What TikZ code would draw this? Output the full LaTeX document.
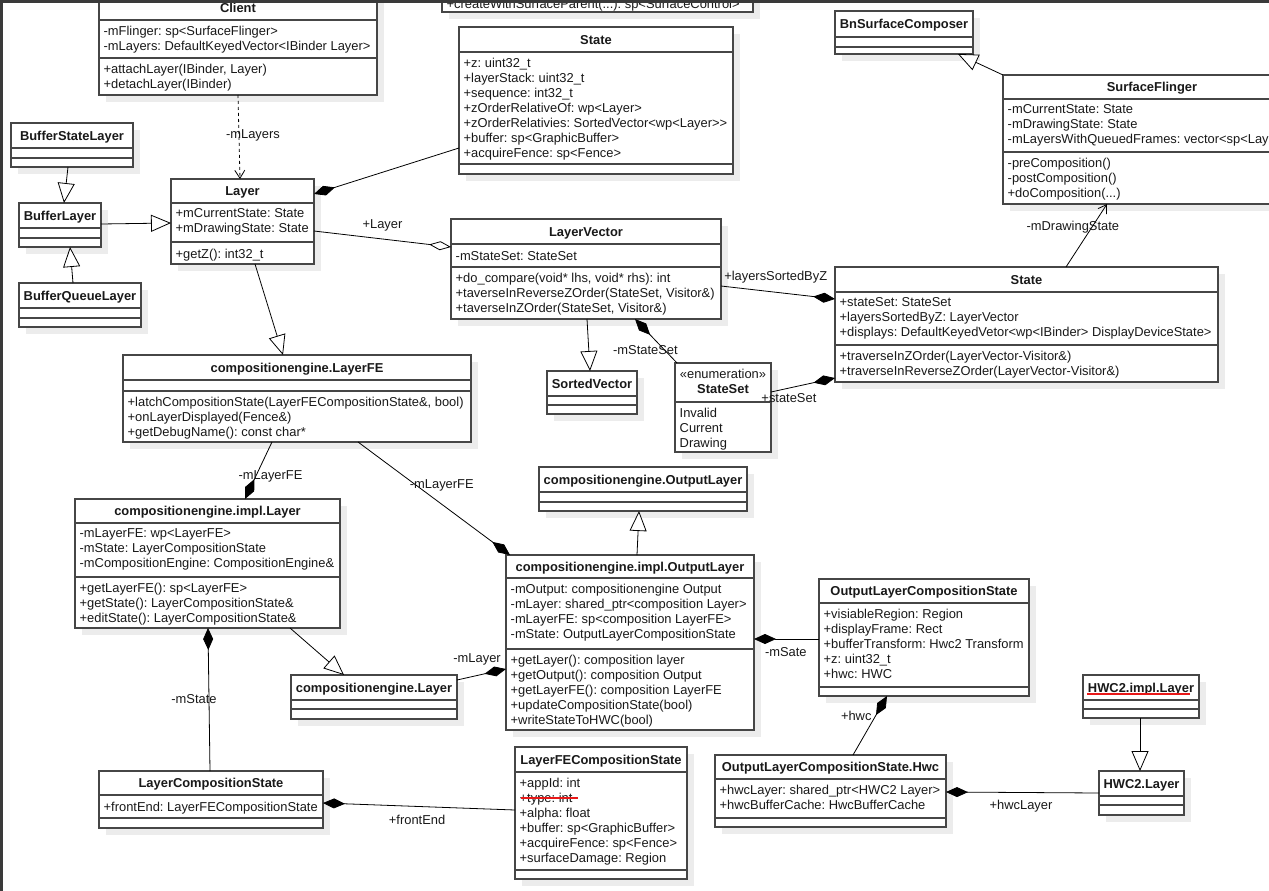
\documentclass[tikz,border=0pt]{standalone}
\usepackage{fontspec}
\newfontfamily\umlfont{Liberation Sans}
\usetikzlibrary{arrows.meta, shadows}

\definecolor{boxgray}{RGB}{70,70,70}
\definecolor{inkgray}{RGB}{25,25,25}
\definecolor{shadowgray}{RGB}{236,236,236}
\definecolor{framegray}{RGB}{58,58,58}
\definecolor{spellred}{RGB}{232,24,24}

% class box: name, top-left corner, width, title/attribute/operation heights, title, attributes, operations
\newcommand{\umlclass}[9]{%
  \node[classbox, minimum width=#3, minimum height={#4+#5+#6}] (#1) at (#2) {};
  \draw[boxline] ([yshift=-#4]#1.north west) -- ([yshift=-#4]#1.north east);
  \draw[boxline] ([yshift={-#4-#5}]#1.north west) -- ([yshift={-#4-#5}]#1.north east);
  \node[titletext] (#1-title) at ([yshift={-#4/2}]#1.north) {#7};
  \node[membertext] (#1-attrs) at ([yshift=-#4]#1.north west) {#8};
  \node[membertext] (#1-ops) at ([yshift={-#4-#5}]#1.north west) {#9};
}

\begin{document}
\frenchspacing
\begin{tikzpicture}[x=1pt, y=-1pt,
    classbox/.style={draw=boxgray, line width=1.2pt, fill=white, anchor=north west,
      outer sep=0pt, inner sep=0pt,
      drop shadow={shadow xshift=7pt, shadow yshift=-7pt, fill=shadowgray, opacity=1}},
    boxline/.style={draw=boxgray, line width=1.2pt},
    titletext/.style={font=\umlfont\bfseries\fontsize{12.9}{15}\selectfont, text=inkgray,
      inner sep=0pt, text height=9.2pt, text depth=0pt, anchor=center},
    stereotext/.style={font=\umlfont\fontsize{12.9}{15}\selectfont, text=inkgray,
      inner sep=0pt, text height=9.2pt, text depth=0pt, anchor=center},
    membertext/.style={font=\umlfont\fontsize{12.9}{15}\selectfont, text=inkgray,
      anchor=north west, align=left, inner xsep=4.5pt, inner ysep=4pt, yshift=-1.5pt,
      execute at begin node=\strut, execute at end node=\strut},
    lbl/.style={font=\umlfont\fontsize{12.9}{15}\selectfont, text=inkgray, inner sep=0pt},
    gen/.style={draw, line width=0.8pt, arrows={-Triangle[length=20pt, width=17pt, fill=white]}},
    comp/.style={draw, line width=0.8pt, arrows={Diamond[length=22pt, width=10pt]-}},
    aggr/.style={draw, line width=0.8pt, arrows={Diamond[length=22pt, width=9pt, fill=white]-}},
    nav/.style={draw, line width=0.8pt, arrows={-Straight Barb[length=8pt, width=10pt]}},
    spell/.style={draw=spellred, line width=1.6pt}]

    \useasboundingbox (0,0) rectangle (1269,891);
    \clip (0,0) rectangle (1269,891);
    \fill[white] (0,0) rectangle (1269,891);

    % classes
    \umlclass{client}{99,-5}{278}{25}{38}{37}{Client}
      {-mFlinger: sp<SurfaceFlinger>\\-mLayers: DefaultKeyedVector<IBinder Layer>}
      {+attachLayer(IBinder, Layer)\\+detachLayer(IBinder)}
    \umlclass{sclient}{442,-43}{311}{25}{10}{20}{}{}
      {+createWithSurfaceParent(...): sp<SurfaceControl>}
    \umlclass{state1}{459,27}{274}{25}{112}{10}{State}
      {+z: uint32\_t\\+layerStack: uint32\_t\\+sequence: int32\_t\\+zOrderRelativeOf: wp<Layer>\\
       +zOrderRelativies: SortedVector<wp<Layer>{}>\\+buffer: sp<GraphicBuffer>\\+acquireFence: sp<Fence>}{}
    \umlclass{bnsc}{835,11}{138}{26}{10}{7}{BnSurfaceComposer}{}{}
    \umlclass{sf}{1003,75}{298}{24}{53}{52}{SurfaceFlinger}
      {-mCurrentState: State\\-mDrawingState: State\\-mLayersWithQueuedFrames: vector<sp<Layer>{}>}
      {-preComposition()\\-postComposition()\\+doComposition(...)}
    \umlclass{bsl}{11,123}{122}{25}{10}{9}{BufferStateLayer}{}{}
    \umlclass{bl}{19,203}{82}{25}{10}{9}{BufferLayer}{}{}
    \umlclass{bql}{19,283}{122}{25}{10}{9}{BufferQueueLayer}{}{}
    \umlclass{layer}{171,179}{143}{24}{39}{22}{Layer}
      {+mCurrentState: State\\+mDrawingState: State}{+getZ(): int32\_t}
    \umlclass{lv}{451,219}{270}{25}{23}{52}{LayerVector}
      {-mStateSet: StateSet}
      {+do\_compare(void* lhs, void* rhs): int\\+taverseInReverseZOrder(StateSet, Visitor\&)\\+taverseInZOrder(StateSet, Visitor\&)}
    \umlclass{sv}{547,371}{90}{25}{9}{9}{SortedVector}{}{}
    \umlclass{ss}{675,363}{96}{39}{50}{0}{}{Invalid\\Current\\Drawing}{}
    \node[stereotext] (ss-stereo) at ([yshift=-11]ss.north) {«enumeration»};
    \node[titletext] (ss-name) at ([yshift=-26]ss.north) {StateSet};
    \umlclass{state2}{835,267}{383}{25}{53}{37}{State}
      {+stateSet: StateSet\\+layersSortedByZ: LayerVector\\+displays: DefaultKeyedVetor<wp<IBinder> DisplayDeviceState>}
      {+traverseInZOrder(LayerVector-Visitor\&)\\+traverseInReverseZOrder(LayerVector-Visitor\&)}
    \umlclass{lfe}{123,355}{348}{25}{11}{51}{compositionengine.LayerFE}{}
      {+latchCompositionState(LayerFECompositionState\&, bool)\\+onLayerDisplayed(Fence\&)\\+getDebugName(): const char*}
    \umlclass{cil}{75,499}{265}{24}{54}{51}{compositionengine.impl.Layer}
      {-mLayerFE: wp<LayerFE>\\-mState: LayerCompositionState\\-mCompositionEngine: CompositionEngine\&}
      {+getLayerFE(): sp<LayerFE>\\+getState(): LayerCompositionState\&\\+editState(): LayerCompositionState\&}
    \umlclass{col}{539,467}{208}{25}{10}{9}{compositionengine.OutputLayer}{}{}
    \umlclass{ciol}{506,555}{248}{23}{71}{81}{compositionengine.impl.OutputLayer}
      {-mOutput: compositionengine Output\\-mLayer: shared\_ptr<composition Layer>\\-mLayerFE: sp<composition LayerFE>\\-mState: OutputLayerCompositionState}
      {+getLayer(): composition layer\\+getOutput(): composition Output\\+getLayerFE(): composition LayerFE\\+updateCompositionState(bool)\\+writeStateToHWC(bool)}
    \umlclass{cel}{291,675}{166}{25}{9}{10}{compositionengine.Layer}{}{}
    \umlclass{olcs}{819,579}{210}{24}{84}{9}{OutputLayerCompositionState}
      {+visiableRegion: Region\\+displayFrame: Rect\\+bufferTransform: Hwc2 Transform\\+z: uint32\_t\\+hwc: HWC}{}
    \umlclass{hil}{1083,675}{116}{25}{9}{9}{HWC2.impl.Layer}{}{}
    \umlclass{hl}{1099,771}{85}{25}{9}{10}{HWC2.Layer}{}{}
    \umlclass{olcsh}{715,755}{231}{24}{39}{9}{OutputLayerCompositionState.Hwc}
      {+hwcLayer: shared\_ptr<HWC2 Layer>\\+hwcBufferCache: HwcBufferCache}{}
    \umlclass{lcs}{99,771}{224}{24}{23}{10}{LayerCompositionState}
      {+frontEnd: LayerFECompositionState}{}
    \umlclass{lfecs}{515,747}{172}{25}{98}{9}{LayerFECompositionState}
      {+appId: int\\+type: int\\+alpha: float\\+buffer: sp<GraphicBuffer>\\+acquireFence: sp<Fence>\\+surfaceDamage: Region}{}

    % spell checker marks
    \draw[spell] ([xshift=6pt, yshift=-51pt]lfecs.north west) -- ++(57,0);
    \draw[spell] ([xshift=4pt, yshift=-19pt]hil.north west) -- ++(103,0);

    % inheritance
    \draw[gen] ([xshift=57pt]bsl.south west) -- ([xshift=45pt]bl.north west);
    \draw[gen] ([xshift=54pt]bql.north west) -- ([xshift=51pt]bl.south west);
    \draw[gen] ([yshift=-21pt]bl.north east) -- ([yshift=-44pt]layer.north west);
    \draw[gen] ([xshift=84pt]layer.south west) -- ([xshift=160pt]lfe.north west);
    \draw[gen] ([xshift=136pt]lv.south west) -- ([xshift=43pt]sv.north west);
    \draw[gen] (sf.north west) -- ([xshift=123pt]bnsc.south west);
    \draw[gen] ([xshift=131pt]ciol.north west) -- ([xshift=100pt]col.south west);
    \draw[gen] ([xshift=215pt]cil.south west) -- ([xshift=53pt]cel.north west);
    \draw[gen] ([xshift=57pt]hil.south west) -- ([xshift=41pt]hl.north west);

    % navigable references
    \draw[nav, dashed] ([xshift=139pt]client.south west) -- node[lbl, pos=0.48, xshift=14pt] (lbl-mlayers) {-mLayers} ([xshift=69pt]layer.north west);
    \draw[nav] ([xshift=231pt]state2.north west) -- node[lbl, pos=0.63, xshift=-19pt] (lbl-mdrawing) {-mDrawingState} ([xshift=104pt]sf.south west);

    % aggregation and composition
    \draw[comp] ([yshift=-15pt]layer.north east) -- ([yshift=-121pt]state1.north west);
    \draw[aggr] ([yshift=-28pt]lv.north west) -- node[lbl, pos=0.5, yshift=14pt] (lbl-layer) {+Layer} ([yshift=-52pt]layer.north east);
    \draw[comp] ([xshift=184pt]lv.south west) -- node[lbl, pos=0.7, xshift=-19pt] (lbl-mstateset) {-mStateSet} ([xshift=2pt]ss.north west);
    \draw[comp] ([yshift=-32pt]state2.north west) -- node[lbl, pos=0.52, yshift=15pt] (lbl-sorted) {+layersSortedByZ} ([yshift=-67pt]lv.north east);
    \draw[comp] ([yshift=4pt]state2.south west) -- node[lbl, pos=0.72, yshift=-10pt] (lbl-stateset) {+stateSet} ([yshift=-29pt]ss.north east);
    \draw[comp] ([xshift=170pt]cil.north west) -- node[lbl, pos=0.39, xshift=15pt] (lbl-mlayerfe) {-mLayerFE} ([xshift=149pt]lfe.south west);
    \draw[comp] ([xshift=4pt]ciol.north west) -- node[lbl, pos=0.62, xshift=26pt] (lbl-mlayerfe2) {-mLayerFE} ([xshift=235pt]lfe.south west);
    \draw[comp] ([yshift=-114pt]ciol.north west) -- node[lbl, pos=0.59, yshift=16pt] (lbl-mlayer) {-mLayer} ([yshift=-5pt]cel.north east);
    \draw[comp] ([yshift=-84pt]ciol.north east) -- node[lbl, pos=0.49, yshift=-13pt] (lbl-msate) {-mSate} ([yshift=-60pt]olcs.north west);
    \draw[comp] ([xshift=68pt]olcs.south west) -- node[lbl, pos=0.345, xshift=-19pt] (lbl-hwc) {+hwc} ([xshift=138pt]olcsh.north west);
    \draw[comp] ([yshift=-37pt]olcsh.north east) -- node[lbl, pos=0.49, yshift=-14pt] (lbl-hwclayer) {+hwcLayer} ([yshift=-22pt]hl.north west);
    \draw[comp] ([xshift=133pt]cil.south west) -- node[lbl, pos=0.5, xshift=-15pt] (lbl-mstate) {-mState} ([xshift=111pt]lcs.north west);
    \draw[comp] ([yshift=-32pt]lcs.north east) -- node[lbl, pos=0.49, yshift=-13.5pt] (lbl-frontend) {+frontEnd} ([yshift=-63pt]lfecs.north west);

    % window frame
    \fill[framegray] (0,0) rectangle (1269,3);
    \fill[framegray] (0,0) rectangle (3,891);
\end{tikzpicture}
\end{document}
